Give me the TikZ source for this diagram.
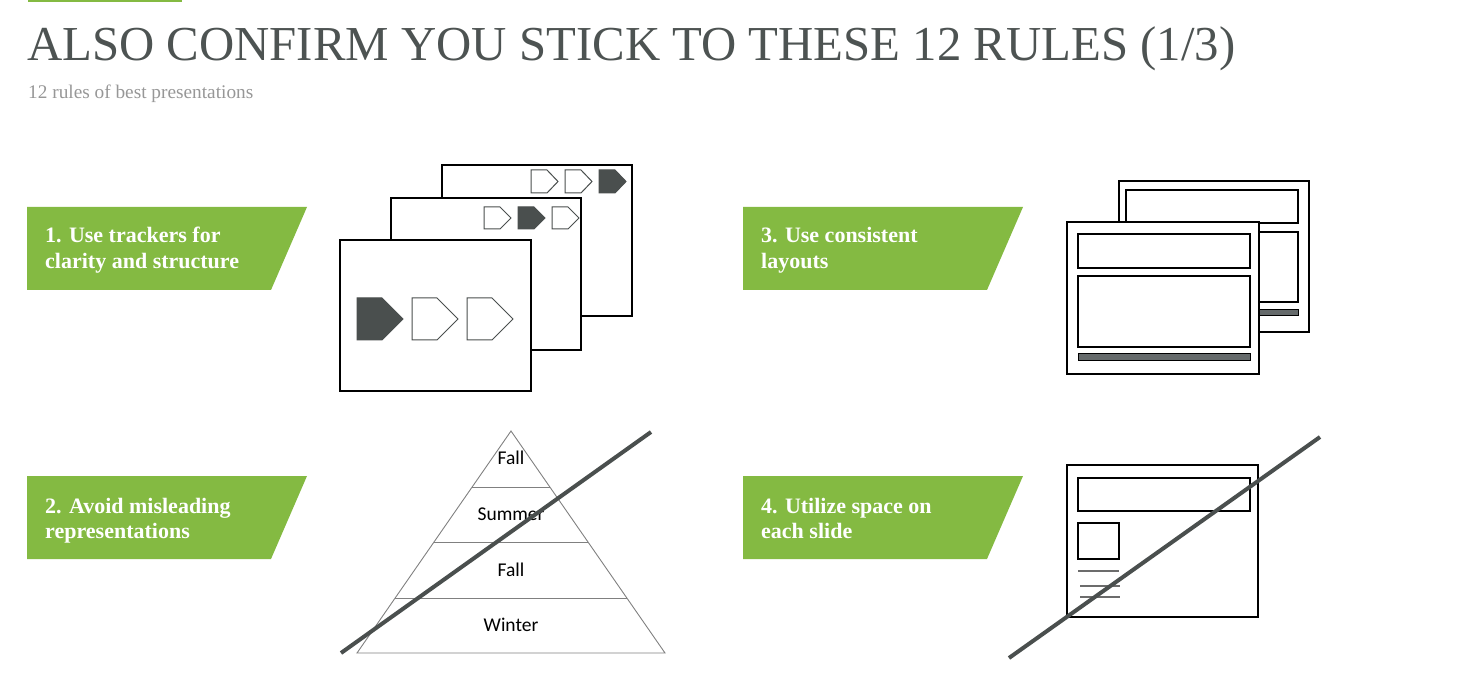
\documentclass[tikz,border=0pt]{standalone}
\usepackage{fontspec}
\setmainfont{Liberation Serif}
\newfontfamily\pyrfont{Carlito}
\usetikzlibrary{calc}
\definecolor{grn}{HTML}{84BA42}
\definecolor{ttl}{HTML}{4D5352}
\definecolor{sub}{HTML}{979797}
\definecolor{dk}{HTML}{4A4F4E}
\definecolor{barg}{HTML}{656A6B}
\definecolor{pyr}{HTML}{808080}
\newcommand\trkpent[6]{% x, y, w, h, body, fill
  \draw[pentline, fill=#6] (#1,#2) -- ++(#5,0) -- (#1+#3,#2+#4/2) -- (#1+#5,#2+#4) -- (#1,#2+#4) -- cycle;}
\tikzset{
  slidebox/.style={draw=black, line width=1.5pt, fill=white},
  innerbox/.style={draw=black, line width=1.5pt},
  pentline/.style={draw=dk, line width=1pt, line join=miter},
  barbox/.style={draw=black, line width=1pt, fill=barg},
  greenlabel/.style={fill=grn},
  labeltext/.style={anchor=base west, inner sep=0pt, text=white, font=\fontsize{22}{26}\selectfont\bfseries},
  pyrtext/.style={anchor=base, inner sep=0pt, font=\pyrfont\fontsize{19.5}{21}\selectfont},
  crossline/.style={draw=dk, line width=4pt},
  thinline/.style={draw=pyr, line width=0.9pt},
  textline/.style={draw=gray!85!black, line width=1.1pt},
}
\begin{document}
\begin{tikzpicture}[x=1pt,y=-1pt]
\useasboundingbox (0,0) rectangle (1464,700);
% top accent bar
\fill[grn] (28,0) rectangle (182,2.5);
% title
\node[anchor=base west, inner sep=0pt, text=ttl, font=\fontsize{48.8}{52}\selectfont] (title) at (27,61) {ALSO CONFIRM YOU STICK TO THESE 12 RULES (1/3)};
\node[anchor=base west, inner sep=0pt, text=sub, font=\fontsize{19.3}{22}\selectfont] (subtitle) at (28,99) {12 rules of best presentations};

% green labels
\fill[greenlabel] (27,207) -- (307,207) -- (271,290) -- (27,290) -- cycle;
\node[labeltext] (l1a) at (45,243) {1. Use trackers for};
\node[labeltext] (l1b) at (45,269) {clarity and structure};
\fill[greenlabel] (27,476) -- (307,476) -- (271,559) -- (27,559) -- cycle;
\node[labeltext] (l2a) at (45,513) {2. Avoid misleading};
\node[labeltext] (l2b) at (45,538) {representations};
\fill[greenlabel] (743,207) -- (1023,207) -- (987,290) -- (743,290) -- cycle;
\node[labeltext] (l3a) at (761,243) {3. Use consistent};
\node[labeltext] (l3b) at (761,269) {layouts};
\fill[greenlabel] (743,476) -- (1023,476) -- (987,559) -- (743,559) -- cycle;
\node[labeltext] (l4a) at (761,513) {4. Utilize space on};
\node[labeltext] (l4b) at (761,538) {each slide};

% trackers icon
\draw[slidebox] (442,165) rectangle (632,316);
\trkpent{531}{170}{27}{23}{16}{white}
\trkpent{565}{170}{27}{23}{16}{white}
\trkpent{599}{170}{27}{23}{16}{dk}
\draw[slidebox] (391,198) rectangle (581,350);
\trkpent{484}{207}{27}{22}{16}{white}
\trkpent{518}{207}{27}{22}{16}{dk}
\trkpent{552}{207}{27}{22}{16}{white}
\draw[slidebox] (340,240) rectangle (531,391);
\trkpent{357}{298}{46}{42}{25}{dk}
\trkpent{412}{298}{46}{42}{25}{white}
\trkpent{467}{298}{46}{42}{25}{white}

% layouts icon
\draw[slidebox] (1119,181) rectangle (1309,332);
\draw[innerbox] (1126,190) rectangle (1298,223);
\draw[innerbox] (1126,232) rectangle (1298,302);
\draw[barbox] (1126,310) rectangle (1298,316);
\draw[slidebox] (1067,222) rectangle (1259,374);
\draw[innerbox] (1078,234) rectangle (1250,268);
\draw[innerbox] (1078,276) rectangle (1250,347);
\draw[barbox] (1078,354) rectangle (1250,361);

% pyramid
\coordinate (apex) at (511,431);
\coordinate (bl) at (357,653);
\coordinate (br) at (665,653);
\draw[thinline] (apex) -- (bl) -- (br) -- cycle;
\draw[thinline] ($(apex)!0.2523!(bl)$) -- ($(apex)!0.2523!(br)$);
\draw[thinline] ($(apex)!0.5!(bl)$) -- ($(apex)!0.5!(br)$);
\draw[thinline] ($(apex)!0.7523!(bl)$) -- ($(apex)!0.7523!(br)$);
\node[pyrtext] (p1) at (511,464) {Fall};
\node[pyrtext] (p2) at (511,520) {Summer};
\node[pyrtext] (p3) at (511,576) {Fall};
\node[pyrtext] (p4) at (511,631) {Winter};
\coordinate (c1a) at (341,653);
\coordinate (c1b) at (651,432);
\draw[crossline] (c1a) -- (c1b);

% utilize space icon
\draw[slidebox] (1067,465) rectangle (1258,617);
\draw[innerbox] (1078,478) rectangle (1250,511);
\draw[innerbox] (1078,523) rectangle (1119,559);
\draw[textline] (1078,571) -- (1119,571);
\draw[textline] (1080,586) -- (1120,586);
\draw[textline] (1080,597) -- (1120,597);
\coordinate (c2a) at (1009,658);
\coordinate (c2b) at (1320,437);
\draw[crossline] (c2a) -- (c2b);
\end{tikzpicture}
\end{document}
